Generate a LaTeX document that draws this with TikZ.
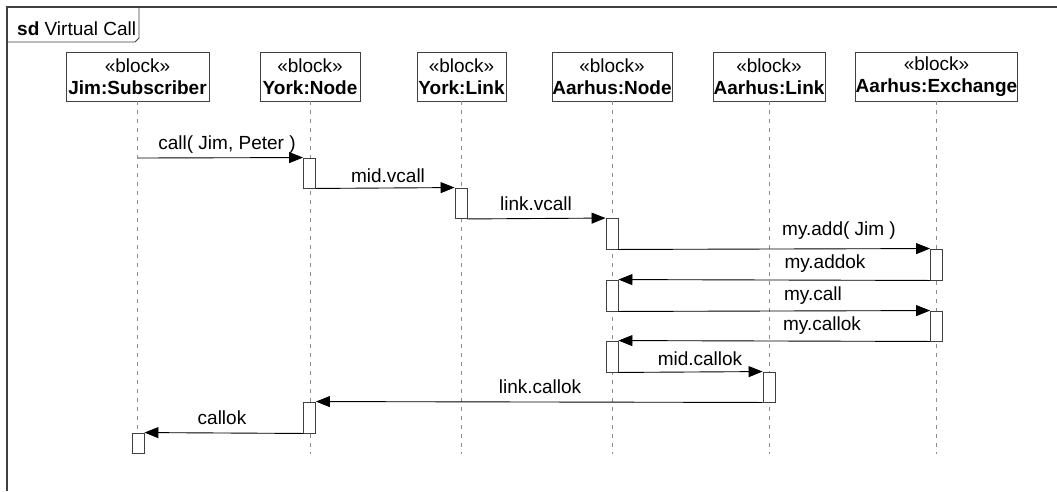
\documentclass[tikz,border=0pt]{standalone}
\usepackage{fontspec}
\setmainfont{Liberation Sans}
\usetikzlibrary{arrows.meta}
\begin{document}
\begin{tikzpicture}[x=1pt,y=-1pt,
  frameline/.style={draw=black!75, line width=1.2pt},
  head/.style={draw=black!75, fill=white, line width=0.9pt, minimum height=49pt, inner sep=0pt, align=center, font=\fontsize{19}{21.5}\selectfont},
  life/.style={draw=black!45, line width=0.6pt, dash pattern=on 4pt off 5pt},
  act/.style={draw=black!75, fill=white, line width=0.9pt, minimum width=12pt, inner sep=0pt},
  msg/.style={draw=black, line width=0.9pt, -{Triangle[length=14pt,width=11pt]}},
  lbl/.style={anchor=base, inner sep=0pt, font=\fontsize{19}{21.5}\selectfont},
]
\useasboundingbox (0,0) rectangle (1057,491);
% frame
\draw[frameline] (7,491) -- (7,7) -- (1057,7);
\draw[frameline, line width=0.9pt] (7,42) -- (135,42) -- (139,38) -- (139,7);
\node[lbl, anchor=base west] (title) at (17,35) {\textbf{sd} Virtual Call};
% heads
\coordinate (bot) at (0,454);
\node[head, minimum width=143pt] (h1) at (137.5,76.5) {«block»\\\textbf{Jim:Subscriber}};
\node[head, minimum width=100pt] (h2) at (310,76.5) {«block»\\\textbf{York:Node}};
\node[head, minimum width=89pt] (h3) at (461.5,76.5) {«block»\\\textbf{York:Link}};
\node[head, minimum width=120pt] (h4) at (612,76.5) {«block»\\\textbf{Aarhus:Node}};
\node[head, minimum width=112pt] (h5) at (769,76.5) {«block»\\\textbf{Aarhus:Link}};
\node[head, minimum width=161pt] (h6) at (936.5,76.5) {«block»\\\textbf{Aarhus:Exchange}};
% lifelines
\foreach \h in {h1,h2,h3,h4,h5,h6}
  \draw[life] (\h.south) -- (\h.south |- bot);
% activations
\node[act, minimum height=30pt] (a1) at (309.5,173) {};
\node[act, minimum height=30.5pt] (a2) at (461,203.25) {};
\node[act, minimum height=30.5pt] (a3) at (612,233.75) {};
\node[act, minimum height=31pt] (a4) at (936.5,264.5) {};
\node[act, minimum height=31pt] (a5) at (612,295.5) {};
\node[act, minimum height=30pt] (a6) at (936.5,326) {};
\node[act, minimum height=31pt] (a7) at (612,356.5) {};
\node[act, minimum height=30pt] (a8) at (769,387) {};
\node[act, minimum height=31pt] (a9) at (309.5,417.5) {};
\node[act, minimum height=20pt] (a10) at (138,443) {};
% messages
\coordinate (c0) at (138,158);
\draw[msg] (c0) -- (a1.north west);
\draw[msg] (a1.south east) -- (a2.north west);
\draw[msg] (a2.south east) -- (a3.north west);
\draw[msg] (a3.south east) -- (a4.north west);
\draw[msg] (a4.south west) -- (a5.north east);
\draw[msg] (a5.south east) -- (a6.north west);
\draw[msg] (a6.south west) -- (a7.north east);
\draw[msg] (a7.south east) -- (a8.north west);
\draw[msg] (a8.south west) -- (a9.north east);
\draw[msg] (a9.south west) -- (a10.north east);
% labels
\node[lbl] (l1) at (227,149) {call( Jim, Peter )};
\node[lbl] (l2) at (388,182) {mid.vcall};
\node[lbl] (l3) at (536,210) {link.vcall};
\node[lbl] (l4) at (839,235) {my.add( Jim )};
\node[lbl] (l5) at (825,268) {my.addok};
\node[lbl] (l6) at (813,300) {my.call};
\node[lbl] (l7) at (822,330) {my.callok};
\node[lbl] (l8) at (700,365) {mid.callok};
\node[lbl] (l9) at (540,393) {link.callok};
\node[lbl] (l10) at (222,424) {callok};
\end{tikzpicture}
\end{document}
